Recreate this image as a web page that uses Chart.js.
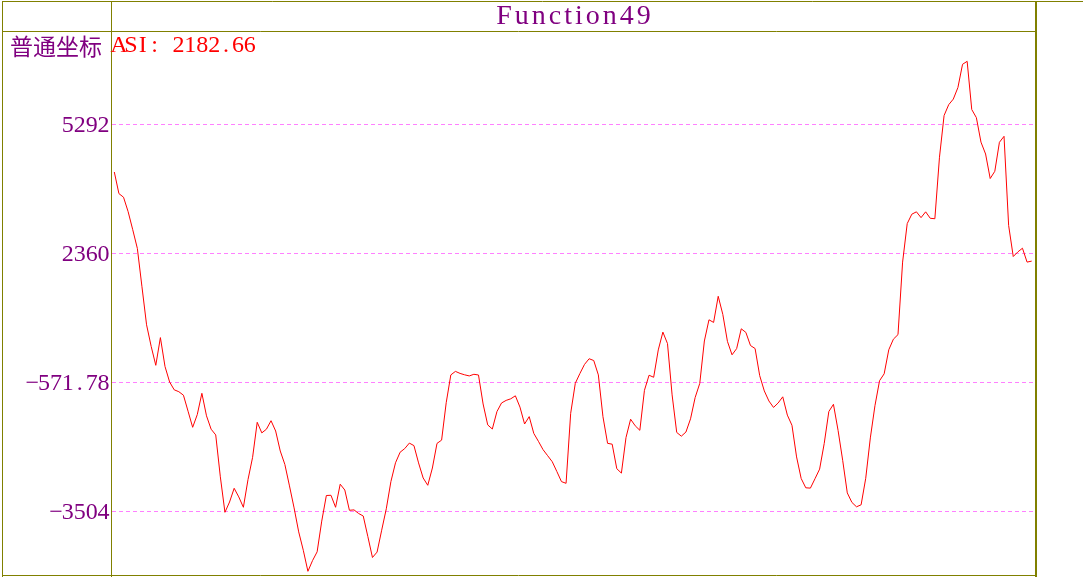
<!DOCTYPE html>
<html>
<head>
<meta charset="utf-8">
<script src="https://cdn.jsdelivr.net/npm/chart.js@4"></script>
<style>
  body { margin: 0; background: #fff; overflow: hidden; }
  canvas { display: block; }
</style>
</head>
<body>
<canvas id="chart" width="1083" height="577"></canvas>
<script>
// ASI values, one per bar
const asiValues = [
  4208, 3717, 3635, 3306, 2896, 2471, 1599, 735, 244, -186,
  444, -213, -565, -743, -786, -865, -1229, -1595, -1306, -822,
  -1334, -1638, -1768, -2720, -3527, -3293, -2981, -3177, -3413, -2784,
  -2277, -1481, -1722, -1638, -1445, -1679, -2134, -2440, -2927, -3427,
  -3972, -4391, -4868, -4625, -4425, -3727, -3145, -3140, -3413, -2888,
  -3020, -3481, -3472, -3554, -3611, -4079, -4554, -4431, -3934, -3447,
  -2829, -2402, -2161, -2079, -1954, -2011, -2404, -2747, -2913, -2520,
  -1961, -1886, -1036, -404, -324, -370, -402, -427, -390, -406,
  -1065, -1540, -1634, -1238, -1042, -983, -947, -879, -1136, -1520,
  -1352, -1734, -1913, -2102, -2240, -2377, -2600, -2829, -2868, -1277,
  -595, -372, -165, -36, -77, -404, -1354, -1959, -1979, -2536,
  -2636, -1827, -1411, -1561, -1663, -754, -411, -458, 164, 569,
  308, -858, -1711, -1797, -1702, -1402, -918, -597, 367, 849,
  789, 1383, 971, 358, 53, 194, 644, 562, 264, 196,
  -420, -768, -997, -1143, -1042, -902, -1318, -1549, -2268, -2759,
  -2970, -2977, -2763, -2545, -1961, -1236, -1072, -1665, -2345, -3086,
  -3302, -3402, -3356, -2754, -1836, -1104, -536, -379, 167, 408,
  512, 2160, 3035, 3249, 3303, 3171, 3303, 3156, 3146, 4544,
  5492, 5738, 5865, 6128, 6656, 6724, 5628, 5444, 4887, 4617,
  4060, 4224, 4883, 5019, 2994, 2287, 2392, 2476, 2160, 2182.66
];
const barIndex = asiValues.map((v, i) => i);

const yTickValues = [5292, 2360, -571.78, -3504];
const yTickLabels = ['5292', '2360', '-571.78', '-3504'];

const titleText = 'Function49';
const coordText = '普通坐标';
const seriesName = 'ASI';
const lastValueText = '2182.66';

const olive = '#808000';
const purple = '#800080';

// draw text one char per fixed-width cell (half-width look)
function drawMono(ctx, text, x, y, advance, font, color, align) {
  const total = text.length * advance;
  let start = x;
  if (align === 'right') start = x - total;
  if (align === 'center') start = x - total / 2;
  ctx.save();
  ctx.font = font;
  ctx.fillStyle = color;
  ctx.textAlign = 'center';
  ctx.textBaseline = 'middle';
  for (let k = 0; k < text.length; k++) {
    let ch = text[k];
    if (ch === '-') ch = '\u2212';
    ctx.fillText(ch, start + advance * (k + 0.5), y);
  }
  ctx.restore();
}

const gridPlugin = {
  id: 'grid',
  beforeDatasetsDraw(chart) {
    const ctx = chart.ctx;
    const area = chart.chartArea;
    const yScale = chart.scales.y;
    ctx.save();
    ctx.strokeStyle = '#ff80ff';
    ctx.lineWidth = 1;
    ctx.setLineDash([4, 3]);
    yTickValues.forEach((v) => {
      const py = Math.round(yScale.getPixelForValue(v)) + 0.5;
      ctx.beginPath();
      ctx.moveTo(area.left + 1, py);
      ctx.lineTo(area.right, py);
      ctx.stroke();
    });
    ctx.restore();
  }
};

const framePlugin = {
  id: 'frame',
  afterDraw(chart) {
    const ctx = chart.ctx;
    const area = chart.chartArea;
    const yScale = chart.scales.y;
    ctx.save();
    ctx.strokeStyle = olive;
    ctx.lineWidth = 1;
    ctx.beginPath();
    ctx.moveTo(2, 1.5); ctx.lineTo(1083, 1.5);
    ctx.moveTo(2.5, 1); ctx.lineTo(2.5, 577);
    ctx.moveTo(area.left + 0.5, 1); ctx.lineTo(area.left + 0.5, 577);
    ctx.moveTo(2, area.top + 0.5); ctx.lineTo(area.right, area.top + 0.5);
    ctx.moveTo(2, area.bottom + 0.5); ctx.lineTo(area.right, area.bottom + 0.5);
    ctx.stroke();
    ctx.fillStyle = olive;
    ctx.fillRect(area.right, 1, 2, 576);
    ctx.restore();

    // title
    ctx.save();
    ctx.font = '28px "Liberation Serif"';
    ctx.letterSpacing = '3px';
    ctx.fillStyle = purple;
    ctx.textAlign = 'center';
    ctx.textBaseline = 'middle';
    ctx.fillText(titleText, (area.left + area.right) / 2 + 2, 17);
    ctx.restore();

    // header row
    ctx.save();
    ctx.font = '23px "Noto Sans CJK SC"';
    ctx.fillStyle = purple;
    ctx.textAlign = 'left';
    ctx.textBaseline = 'middle';
    ctx.fillText(coordText, 10, 46);
    ctx.restore();
    drawMono(ctx, seriesName + ': ' + lastValueText, area.left + 2, 46, 11.9,
      '24px "Liberation Serif"', '#ff0000', 'left');

    // y tick labels
    yTickValues.forEach((v, i) => {
      const py = yScale.getPixelForValue(v);
      drawMono(ctx, yTickLabels[i], 109.5, py + 1, 11.9,
        '24px "Liberation Serif"', purple, 'right');
    });
  }
};

const chart = new Chart(document.getElementById('chart'), {
  type: 'line',
  data: {
    datasets: [{
      label: seriesName,
      data: asiValues.map((v, i) => ({ x: barIndex[i], y: v })),
      borderColor: '#ff0000',
      borderWidth: 1,
      pointRadius: 0,
      tension: 0,
      fill: false
    }]
  },
  options: {
    responsive: false,
    animation: false,
    devicePixelRatio: 1,
    layout: { padding: { left: 111, top: 31, right: 48, bottom: 2 } },
    plugins: {
      legend: { display: false },
      tooltip: { enabled: false }
    },
    scales: {
      x: { type: 'linear', display: false, min: -0.716, max: 199.72 },
      y: { display: false, min: -4952, max: 7413 }
    }
  },
  plugins: [gridPlugin, framePlugin]
});
</script>
</body>
</html>
